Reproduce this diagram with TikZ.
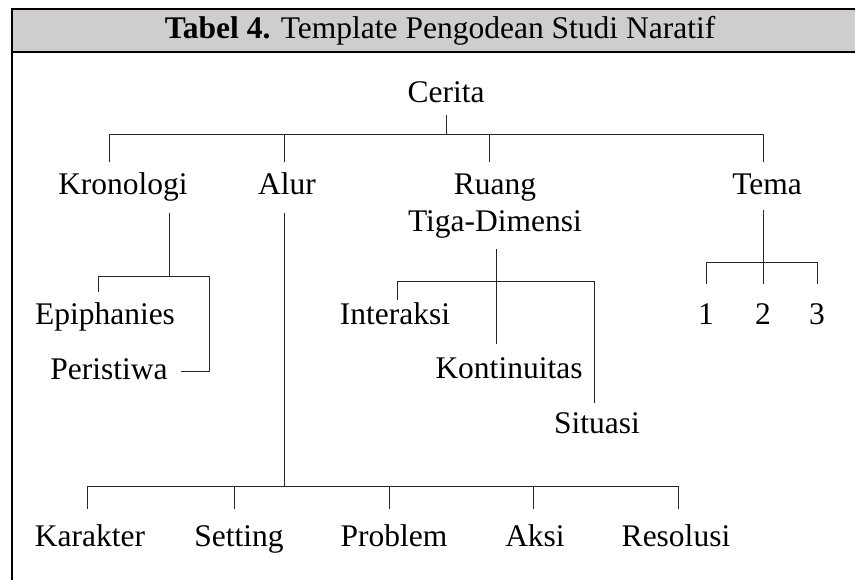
\documentclass[tikz,border=0pt]{standalone}
\usepackage{fontspec}
\setmainfont{Liberation Serif}
\definecolor{hdrgray}{RGB}{207,205,205}
\begin{document}
\begin{tikzpicture}[x=1pt,y=-1pt,
  lbl/.style={inner sep=0pt,anchor=base,font=\fontsize{31.5}{37}\selectfont},
  conn/.style={line width=1pt,black!85},
  frame/.style={line width=2.6pt,black}]
\useasboundingbox (0,0) rectangle (855,580);
\clip (0,0) rectangle (855,580);
% frame and header
\fill[hdrgray] (12,9) rectangle (870,52);
\draw[frame] (870,9) -- (12,9) -- (12,600);
\draw[frame] (12,52) -- (870,52);
\node[lbl] (title) at (440,39) {\textbf{Tabel 4.} Template Pengodean Studi Naratif};
% nodes
\node[lbl] (cerita) at (446,103) {Cerita};
\node[lbl] (kron) at (123,195) {Kronologi};
\node[lbl] (alur) at (287,195) {Alur};
\node[lbl,align=center] (ruang) at (495,232) {Ruang\\Tiga-Dimensi};
\node[lbl] (tema) at (767,195) {Tema};
\node[lbl] (epi) at (105,325) {Epiphanies};
\node[lbl] (peri) at (109,379) {Peristiwa};
\node[lbl] (inter) at (395,325) {Interaksi};
\node[lbl] (konti) at (509,378) {Kontinuitas};
\node[lbl] (situ) at (597,433) {Situasi};
\node[lbl] (t1) at (706,325) {1};
\node[lbl] (t2) at (763,325) {2};
\node[lbl] (t3) at (817,325) {3};
\node[lbl] (kar) at (90,546) {Karakter};
\node[lbl] (set) at (239,546) {Setting};
\node[lbl] (prob) at (394,546) {Problem};
\node[lbl] (aksi) at (535,546) {Aksi};
\node[lbl] (reso) at (676,546) {Resolusi};
% Cerita
\coordinate (cA) at (446,115); \coordinate (cB) at (446,135);
\coordinate (cK0) at (109,135); \coordinate (cK1) at (109,162);
\coordinate (cL0) at (284,135); \coordinate (cL1) at (284,162);
\coordinate (cR0) at (489,135); \coordinate (cR1) at (489,162);
\coordinate (cT0) at (763,135); \coordinate (cT1) at (763,162);
\draw[conn] (cA) -- (cB);
\draw[conn] (cK1) -- (cK0) -- (cT0) -- (cT1);
\draw[conn] (cL0) -- (cL1);
\draw[conn] (cR0) -- (cR1);
% Kronologi
\coordinate (kA) at (169,213); \coordinate (kB) at (169,277);
\coordinate (kE0) at (98,277); \coordinate (kE1) at (98,292);
\coordinate (kP0) at (209,277); \coordinate (kP1) at (209,372); \coordinate (kP2) at (181,372);
\draw[conn] (kA) -- (kB);
\draw[conn] (kE1) -- (kE0) -- (kP0) -- (kP1) -- (kP2);
% Alur
\coordinate (aA) at (284,213); \coordinate (aB) at (284,486);
\coordinate (aK0) at (87,486); \coordinate (aK1) at (87,509);
\coordinate (aS0) at (234,486); \coordinate (aS1) at (234,509);
\coordinate (aP0) at (389,486); \coordinate (aP1) at (389,509);
\coordinate (aA0) at (533,486); \coordinate (aA1) at (533,509);
\coordinate (aR0) at (678,486); \coordinate (aR1) at (678,509);
\draw[conn] (aA) -- (aB);
\draw[conn] (aK1) -- (aK0) -- (aR0) -- (aR1);
\draw[conn] (aS0) -- (aS1);
\draw[conn] (aP0) -- (aP1);
\draw[conn] (aA0) -- (aA1);
% Ruang
\coordinate (rA) at (496,249); \coordinate (rB) at (496,344);
\coordinate (rI0) at (397,282); \coordinate (rI1) at (397,300);
\coordinate (rS0) at (594,282); \coordinate (rS1) at (594,403);
\draw[conn] (rA) -- (rB);
\draw[conn] (rI1) -- (rI0) -- (rS0) -- (rS1);
% Tema
\coordinate (tA) at (763,210); \coordinate (tB) at (763,284);
\coordinate (t10) at (706,263); \coordinate (t11) at (706,284);
\coordinate (t30) at (817,263); \coordinate (t31) at (817,284);
\draw[conn] (tA) -- (tB);
\draw[conn] (t11) -- (t10) -- (t30) -- (t31);
\end{tikzpicture}
\end{document}
